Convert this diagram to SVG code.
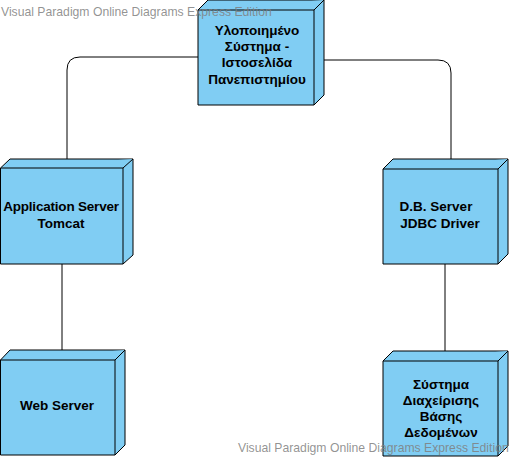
<svg xmlns="http://www.w3.org/2000/svg" width="510" height="458" viewBox="0 0 510 458">
<style>
.box{fill:#80CDF3;stroke:#000;stroke-width:1}
.lbl{font-family:"Liberation Sans",Arial,sans-serif;font-size:13.5px;font-weight:bold;fill:#000;text-anchor:middle}
.wm{font-family:"Liberation Sans",Arial,sans-serif;font-size:12.2px;fill:#7f7f7f;fill-opacity:0.85}
.con{fill:none;stroke:#000;stroke-width:1}
</style>
<rect width="510" height="458" fill="#fff"/>
<g id="connectors">
<path class="con" d="M198 57 H80 Q67 57 67 70 V159"/>
<path class="con" d="M324 60 H438 Q451 60 451 73 V159"/>
<path class="con" d="M62 264 V350"/>
<path class="con" d="M445 264 V351"/>
</g>
<g id="node-system">
<path class="box" d="M198 10 L208 0 H324 V95 L314 105 H198 Z"/>
<path class="box" d="M198 10 H314 L324 0 M314 10 V105"/>
<text class="lbl" x="257" y="35">Υλοποιημένο</text>
<text class="lbl" x="257" y="51">Σύστημα -</text>
<text class="lbl" x="257" y="67">Ιστοσελίδα</text>
<text class="lbl" x="257" y="84">Πανεπιστημίου</text>
</g>
<g id="node-appserver">
<path class="box" d="M0.5 168 L10 159 H133 V255 L123 264 H0.5 Z"/>
<path class="box" d="M0.5 168 H123 L133 159 M123 168 V264"/>
<text class="lbl" x="61" y="211" letter-spacing="-0.2">Application Server</text>
<text class="lbl" x="61" y="228">Tomcat</text>
</g>
<g id="node-dbserver">
<path class="box" d="M383 169 L393 159 H508 V254 L498 264 H383 Z"/>
<path class="box" d="M383 169 H498 L508 159 M498 169 V264"/>
<text class="lbl" x="436" y="211">D.B. Server</text>
<text class="lbl" x="440" y="228">JDBC Driver</text>
</g>
<g id="node-webserver">
<path class="box" d="M0.5 360 L10 350 H125 V445 L115 455 H0.5 Z"/>
<path class="box" d="M0.5 360 H115 L125 350 M115 360 V455"/>
<text class="lbl" x="57" y="410">Web Server</text>
</g>
<g id="node-dbms">
<path class="box" d="M383 361 L393 351 H508 V446 L498 456 H383 Z"/>
<path class="box" d="M383 361 H498 L508 351 M498 361 V456"/>
<text class="lbl" x="441" y="389">Σύστημα</text>
<text class="lbl" x="441" y="405">Διαχείρισης</text>
<text class="lbl" x="441" y="421">Βάσης</text>
<text class="lbl" x="441" y="437">Δεδομένων</text>
</g>
<text class="wm" x="1" y="16">Visual Paradigm Online Diagrams Express Edition</text>
<text class="wm" x="238" y="452">Visual Paradigm Online Diagrams Express Edition</text>
</svg>
